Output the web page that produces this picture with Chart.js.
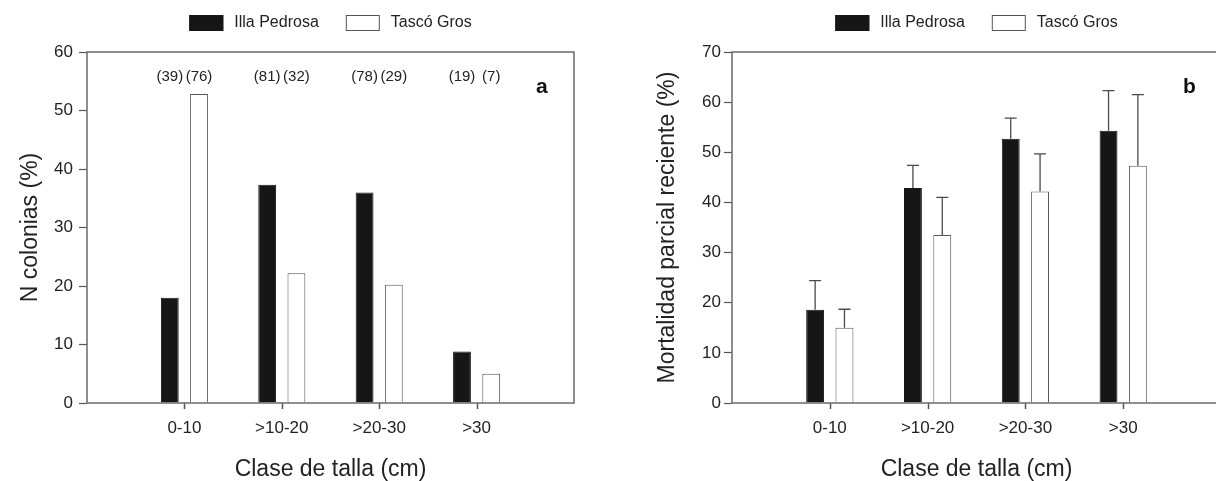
<!DOCTYPE html>
<html>
<head>
<meta charset="utf-8">
<script src="https://cdn.jsdelivr.net/npm/chart.js@4"></script>
<style>
  html, body { margin: 0; padding: 0; background: #fff; overflow: hidden; width: 1216px; height: 481px; }
  canvas { position: absolute; top: 0; }
  #chartA { left: 0; }
  #chartB { left: 608px; }
</style>
</head>
<body>
<canvas id="chartA" width="608" height="481"></canvas>
<canvas id="chartB" width="640" height="481"></canvas>
<script>
// size classes and series
var classes = ['0-10', '>10-20', '>20-30', '>30'];
var seriesNames = ['Illa Pedrosa', 'Tascó Gros'];

// panel a: N colonias (%)
var coloniasIlla = [18.0, 37.3, 36.0, 8.8];
var coloniasTasco = [52.8, 22.2, 20.2, 5.0];
var nIlla = ['(39)', '(81)', '(78)', '(19)'];
var nTasco = ['(76)', '(32)', '(29)', '(7)'];

// panel b: mortalidad parcial reciente (%) with upper error
var mortIlla = [18.6, 42.9, 52.7, 54.3];
var mortTasco = [15.0, 33.5, 42.2, 47.3];
var errIlla = [5.8, 4.5, 4.1, 8.0];
var errTasco = [3.7, 7.5, 7.5, 14.2];

var yTicksA = [0, 10, 20, 30, 40, 50, 60];
var yTicksB = [0, 10, 20, 30, 40, 50, 60, 70];

Chart.defaults.font.family = "'Liberation Sans', Arial, sans-serif";
Chart.defaults.color = '#222';

// one empty slot on each side of the categories
function pad(arr, blank) {
  return [blank].concat(arr, [blank]);
}

var boxPlugin = {
  id: 'box',
  afterDraw: function(chart) {
    var c = chart.ctx, a = chart.chartArea, xs = chart.scales.x, ys = chart.scales.y;
    var o = chart.options.plugins.box;
    c.save();
    // error bars
    chart.data.datasets.forEach(function(ds, i) {
      if (!ds.errors) return;
      chart.getDatasetMeta(i).data.forEach(function(bar, j) {
        var e = ds.errors[j - 1];
        if (e == null) return;
        var top = ys.getPixelForValue(ds.data[j] + e);
        c.strokeStyle = '#4a4a4a';
        c.lineWidth = 1.3;
        c.beginPath();
        c.moveTo(bar.x, bar.y);
        c.lineTo(bar.x, top);
        c.moveTo(bar.x - 6, top);
        c.lineTo(bar.x + 6, top);
        c.stroke();
      });
    });
    // count labels above bars
    if (o.counts) {
      c.font = '15px ' + Chart.defaults.font.family;
      c.fillStyle = '#222';
      c.textAlign = 'center';
      c.textBaseline = 'middle';
      o.counts.forEach(function(list, i) {
        var meta = chart.getDatasetMeta(i);
        list.forEach(function(t, j) {
          c.fillText(t, meta.data[j + 1].x, a.top + 25);
        });
      });
    }
    // tick marks under each size class
    c.strokeStyle = '#555';
    c.lineWidth = 1.5;
    for (var j = 1; j <= classes.length; j++) {
      var px = Math.round(xs.getPixelForTick(j)) + 0.5;
      c.beginPath();
      c.moveTo(px, a.bottom);
      c.lineTo(px, a.bottom + 6);
      c.stroke();
    }
    // frame
    c.strokeStyle = '#6a6a6a';
    c.lineWidth = 1.5;
    c.strokeRect(a.left, a.top, a.right - a.left, a.bottom - a.top);
    // panel letter
    c.font = 'bold 21px ' + Chart.defaults.font.family;
    c.fillStyle = '#111';
    c.textAlign = 'left';
    c.textBaseline = 'alphabetic';
    c.fillText(o.letter, a.right - 38, a.top + 41);
    // legend centred over the plot area
    c.font = '16px ' + Chart.defaults.font.family;
    c.textBaseline = 'middle';
    var bw = 34, bh = 16, gap = 11, sp = 27;
    var items = chart.data.datasets.map(function(ds) {
      return { ds: ds, w: c.measureText(ds.label).width };
    });
    var total = 0;
    items.forEach(function(it, k) { total += bw + gap + it.w + (k ? sp : 0); });
    var lx = (a.left + a.right) / 2 - total / 2;
    items.forEach(function(it) {
      c.fillStyle = it.ds.backgroundColor;
      c.fillRect(lx, 15, bw, bh);
      c.strokeStyle = it.ds.borderColor;
      c.lineWidth = 1;
      c.strokeRect(lx + 0.5, 15.5, bw - 1, bh - 1);
      c.fillStyle = '#222';
      c.fillText(it.ds.label, lx + bw + gap, 23);
      lx += bw + gap + it.w + sp;
    });
    c.restore();
  }
};

function makeChart(id, o) {
  return new Chart(document.getElementById(id), {
    type: 'bar',
    data: {
      labels: pad(classes, ''),
      datasets: [{
        label: seriesNames[0],
        data: pad(o.illa, null),
        errors: o.errIlla,
        backgroundColor: '#161616',
        borderColor: '#161616',
        borderWidth: 1
      }, {
        label: seriesNames[1],
        data: pad(o.tasco, null),
        errors: o.errTasco,
        backgroundColor: '#ffffff',
        borderColor: '#555555',
        borderWidth: 1
      }]
    },
    options: {
      responsive: false,
      animation: false,
      events: [],
      categoryPercentage: 0.6,
      barPercentage: 0.61,
      layout: { padding: { top: 52, left: o.padLeft, right: o.padRight, bottom: 0 } },
      scales: {
        x: {
          offset: false,
          grid: {
            offset: false,
            drawOnChartArea: false,
            tickLength: 6,
            tickColor: 'rgba(0,0,0,0)'
          },
          border: { display: false },
          ticks: { font: { size: 17 }, color: '#222', padding: 9, maxRotation: 0, autoSkip: false },
          title: {
            display: true, text: 'Clase de talla (cm)', color: '#222',
            font: { size: 23, lineHeight: 1 }, padding: { top: 0, bottom: 0 }
          },
          afterFit: function(s) { s.height = 78; }
        },
        y: {
          min: o.yTicks[0],
          max: o.yTicks[o.yTicks.length - 1],
          grid: { drawOnChartArea: false, tickLength: 8, tickWidth: 1.2, tickColor: '#555' },
          border: { display: false },
          ticks: { stepSize: 10, font: { size: 17 }, color: '#222', padding: o.tickPad },
          title: {
            display: true, text: o.yTitle, color: '#222',
            font: { size: 23, lineHeight: 1 }, padding: { top: 0, bottom: 0 }
          },
          afterFit: function(s) { s.width = o.axisWidth; }
        }
      },
      plugins: {
        legend: { display: false },
        tooltip: { enabled: false },
        box: { letter: o.letter, counts: o.counts }
      }
    },
    plugins: [boxPlugin]
  });
}

makeChart('chartA', {
  illa: coloniasIlla, tasco: coloniasTasco,
  counts: [nIlla, nTasco],
  yTicks: yTicksA, yTitle: 'N colonias (%)', letter: 'a',
  padLeft: 19, padRight: 34, axisWidth: 68, tickPad: 6
});

makeChart('chartB', {
  illa: mortIlla, tasco: mortTasco,
  errIlla: errIlla, errTasco: errTasco,
  yTicks: yTicksB, yTitle: 'Mortalidad parcial reciente (%)', letter: 'b',
  padLeft: 48, padRight: 27, axisWidth: 76, tickPad: 3
});
</script>
</body>
</html>
